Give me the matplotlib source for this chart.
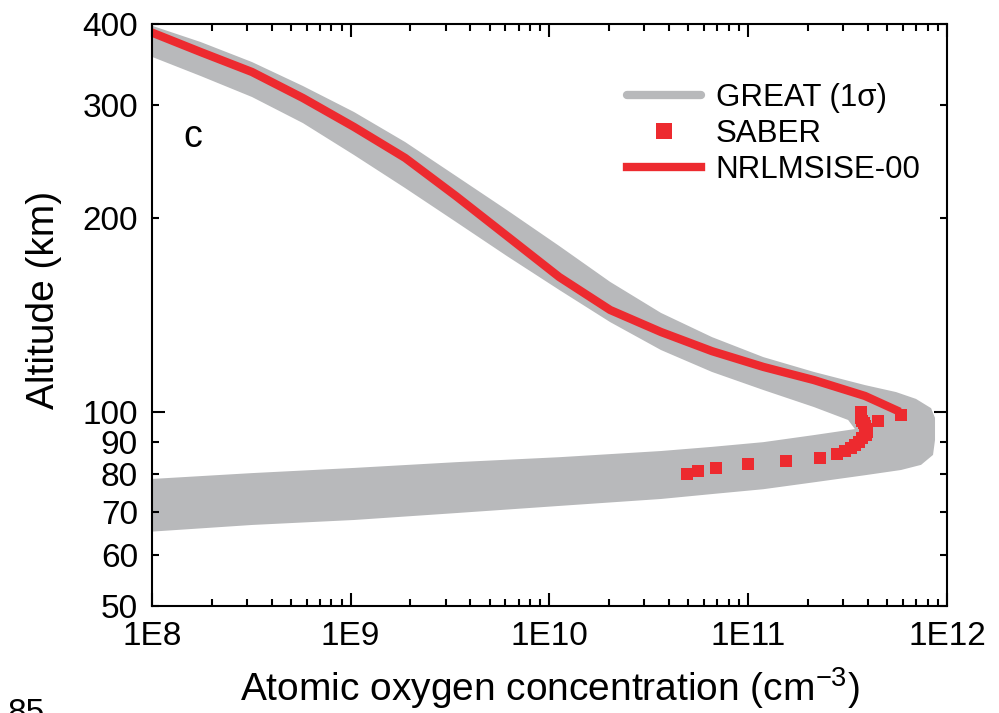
import numpy as np
import matplotlib
matplotlib.use('Agg')
import matplotlib.pyplot as plt
from matplotlib.lines import Line2D
from matplotlib.ticker import LogLocator, NullFormatter

plt.rcParams['font.family'] = ['Liberation Sans', 'DejaVu Sans']
plt.rcParams['mathtext.fontset'] = 'custom'
plt.rcParams['mathtext.rm'] = 'Liberation Sans'

# GREAT 1-sigma envelope: low-concentration edge (altitude ascending)
great_lo_alt = [64, 78.7, 80.4, 81.9, 83.6, 85.1, 87.0, 88.3, 89.8, 92.1, 94.1, 97.2,
                101.8, 108.2, 115.4, 124.8, 137.9, 154.7, 174.6, 197.2, 222.6, 250.5,
                280.8, 308.2, 332.2, 356.8, 420]
great_lo = [5e7, 9.77e7, 3.19e8, 1.04e9, 3.39e9, 1.12e10, 3.64e10, 6.57e10, 1.19e11,
            2.14e11, 3.44e11, 3.18e11, 2.14e11, 1.19e11, 6.57e10, 3.64e10, 2.02e10,
            1.12e10, 6.11e9, 3.39e9, 1.88e9, 1.04e9, 5.75e8, 3.19e8, 1.76e8, 9.77e7, 5e7]

# GREAT 1-sigma envelope: high-concentration edge (altitude descending)
great_hi_alt = [420, 398.6, 375.1, 349.2, 320.6, 292.1, 262.4, 232.4, 205.8, 181.0,
                159.2, 142.5, 130.7, 121.7, 115.4, 110.1, 107.4, 104.8, 101.4, 97.9,
                90.5, 85.8, 82.8, 81.3, 79.8, 77.8, 75.9, 74.6, 73.3, 71.5, 69.7, 68.0,
                66.8, 65.2, 64]
great_hi = [8e7, 9.77e7, 1.76e8, 3.19e8, 5.75e8, 1.04e9, 1.88e9, 3.39e9, 6.11e9, 1.12e10,
            2.02e10, 3.64e10, 6.57e10, 1.19e11, 2.14e11, 3.87e11, 5.54e11, 6.98e11,
            8.31e11, 8.70e11, 8.70e11, 8.50e11, 7.40e11, 5.87e11, 3.87e11, 2.14e11,
            1.19e11, 6.57e10, 3.64e10, 1.12e10, 3.39e9, 1.04e9, 3.19e8, 9.77e7, 8e7]

# SABER
saber_alt = [80, 81, 82, 83, 84, 85, 86, 87, 88, 89, 90, 91, 92, 93, 94, 95, 96, 97,
             98, 99, 100, 97, 99]
saber_o = [4.9e10, 5.6e10, 6.9e10, 1.0e11, 1.55e11, 2.3e11, 2.8e11, 3.05e11, 3.3e11,
           3.45e11, 3.6e11, 3.75e11, 3.9e11, 3.95e11, 3.9e11, 3.85e11, 3.8e11, 3.75e11,
           3.7e11, 3.7e11, 3.7e11, 4.5e11, 5.9e11]

# NRLMSISE-00
nrl_alt = [388, 361.9, 337.0, 307.1, 276.9, 247.9, 216.3, 187.6, 162.0, 144.0, 133.1,
           124.3, 117.5, 112.1, 105.9, 100.7]
nrl_o = [1.0e8, 1.76e8, 3.19e8, 5.75e8, 1.04e9, 1.88e9, 3.39e9, 6.11e9, 1.12e10, 2.02e10,
         3.64e10, 6.57e10, 1.19e11, 2.14e11, 3.87e11, 5.54e11]

y_ticks_minor = [50, 60, 70, 80, 90, 200, 300, 400]
x_ticks = [1e8, 1e9, 1e10, 1e11, 1e12]
x_labels = ['1E8', '1E9', '1E10', '1E11', '1E12']

gray = '#b8b9bb'
red = '#ed2a2f'

fig = plt.figure(figsize=(9.99, 7.13), dpi=100)
ax = fig.add_axes([0.152, 0.150, 0.796, 0.8163])

ax.fill(np.concatenate([great_lo, great_hi]),
        np.concatenate([great_lo_alt, great_hi_alt]),
        color=gray, lw=0, zorder=1)
ax.plot(saber_o, saber_alt, 's', color=red, ms=8.5, mew=0, zorder=3)
ax.plot(nrl_o, nrl_alt, '-', color=red, lw=6, solid_joinstyle='round', zorder=2)

ax.set_xscale('log')
ax.set_yscale('log')
ax.set_xlim(1e8, 1e12)
ax.set_ylim(50, 400)

ax.set_xticks(x_ticks, x_labels)
ax.xaxis.set_minor_locator(LogLocator(base=10, subs=np.arange(2, 10)))
ax.xaxis.set_minor_formatter(NullFormatter())
ax.set_yticks([100], ['100'])
ax.set_yticks(y_ticks_minor, [str(v) for v in y_ticks_minor], minor=True)

ax.tick_params(which='both', direction='in', top=True, right=True, width=1.5,
               labelsize=24)
ax.tick_params(axis='x', which='both', pad=11)
ax.tick_params(axis='y', which='both', pad=10)
ax.tick_params(which='major', length=9.5)
ax.tick_params(which='minor', length=5)
for s in ax.spines.values():
    s.set_linewidth(1.5)

ax.set_xlabel('Atomic oxygen concentration (cm$^{-3}$)', fontsize=28, labelpad=9)
ax.set_ylabel('Altitude (km)', fontsize=28)
ax.yaxis.set_label_coords(-0.113, 0.526)

ax.text(0.052, 0.806, 'c', transform=ax.transAxes, fontsize=27, ha='center', va='center')

handles = [Line2D([], [], color=gray, lw=6, solid_capstyle='round'),
           Line2D([], [], color=red, marker='s', ls='none', ms=11, mew=0),
           Line2D([], [], color=red, lw=6)]
ax.legend(handles, ['GREAT (1\u03c3)', 'SABER', 'NRLMSISE-00'], loc='upper left',
          bbox_to_anchor=(0.597, 0.898), frameon=False, fontsize=22.5, handlelength=2.37,
          handletextpad=0.48, labelspacing=0.18, borderpad=0, borderaxespad=0)

fig.text(0.008, 0.021, '85', fontsize=24, va='top', ha='left')

fig.savefig('out.png', dpi=100)
